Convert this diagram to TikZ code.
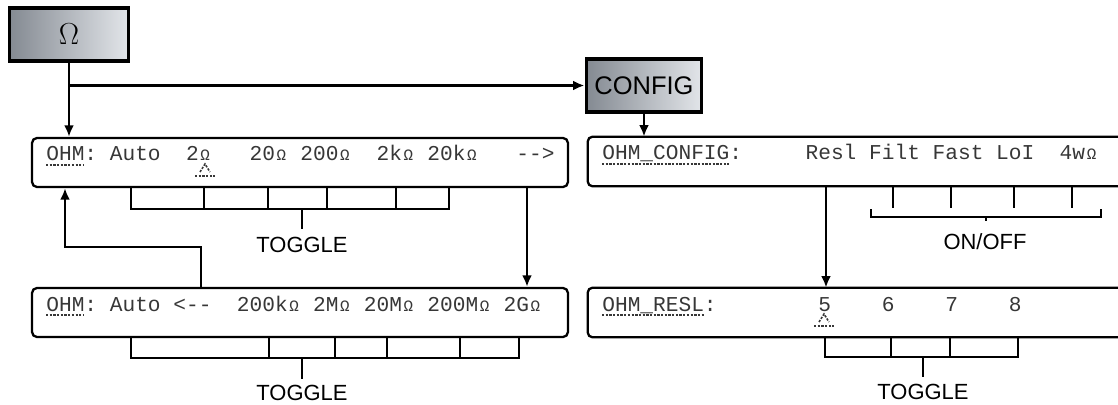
\documentclass[tikz,border=0pt]{standalone}
\usepackage{fontspec}
\usepackage{tikz}
\usetikzlibrary{arrows.meta,calc}
\newfontfamily\lcdfont{Liberation Mono}
\newfontfamily\labelfont{Liberation Sans}
\definecolor{KeyDark}{RGB}{132,138,146}
\definecolor{KeyLight}{RGB}{226,229,233}
\definecolor{LcdInk}{RGB}{55,55,55}
\newcommand{\om}{\makebox[0.6em]{\fontsize{9}{9}\selectfont Ω}}
\newcommand{\dsh}{\mbox{-}}
\tikzset{
  keybox/.style={draw, line width=2.2pt, left color=KeyDark, right color=KeyLight, inner sep=1pt},
  display/.style={draw, line width=1.3pt, rounded corners=2.8pt, minimum width=10.72cm, minimum height=0.98cm},
  openbox/.style={minimum width=10.6cm, minimum height=0.98cm},
  lcd/.style={font=\lcdfont\fontsize{12.05}{14}\selectfont\frenchspacing, text=LcdInk, inner sep=0pt, anchor=base west},
  selline/.style={LcdInk, line width=0.9pt, dash pattern=on 1.3pt off 0.8pt},
  brace/.style={line width=1.1pt},
  flow/.style={->, line width=1.4pt},
  lbl/.style={font=\labelfont\fontsize{12.5}{15}\selectfont},
  cursor/.pic={\draw[selline] (-5,11) -- (0,3) -- (5,11); \draw[selline] (-10,15) -- (10,15);}
}

\begin{document}
\begin{tikzpicture}[>={Latex[length=6.5pt,width=5.5pt]},x=0.02cm,y=-0.02cm]
\useasboundingbox (0,0) rectangle (1118,405);
% keys
\node[keybox, minimum width=2.38cm, minimum height=1.06cm, font=\fontsize{17}{20}\selectfont] (omegakey) at (69,34.5) {$\Omega$};
\node[keybox, minimum width=2.3cm, minimum height=1.06cm, font=\labelfont\fontsize{14.5}{18}\selectfont] (configkey) at (644,85.5) {CONFIG};
% displays
\node[display] (ohmtop) at (300,162.5) {};
\node[display] (ohmbot) at (300,312.5) {};
\node[openbox] (cfgdisp) at (853,161.5) {};
\node[openbox] (resldisp) at (853,312.5) {};
\draw[line width=1.3pt, rounded corners=2.8pt] (cfgdisp.north east) -- (cfgdisp.north west) -- (cfgdisp.south west) -- (cfgdisp.south east);
\draw[line width=1.3pt, rounded corners=2.8pt] (resldisp.north east) -- (resldisp.north west) -- (resldisp.south west) -- (resldisp.south east);

\node[lcd] (ohmtoptext) at (46,161) {OHM:~Auto~~2\om~~~20\om~200\om~~2k\om~20k\om~~~\dsh\dsh>};
\draw[selline] (46,165) -- (84,165);
\pic at (205,161) {cursor};
\node[lcd] (ohmbottext) at (46,311) {OHM:~Auto~<\dsh\dsh~~200k\om~2M\om~20M\om~200M\om~2G\om};
\draw[selline] (46,315) -- (84,315);
\node[lcd] (cfgtext) at (602,160) {OHM\_CONFIG:~~~~~Resl~Filt~Fast~LoI~~4w\om};
\draw[selline] (602,164) -- (729,164);
\node[lcd] (resltext) at (602,311) {OHM\_RESL:~~~~~~~~5~~~~6~~~~7~~~~8};
\draw[selline] (602,315) -- (704,315);
\pic at (824,311) {cursor};

% connectors
\coordinate (backx) at (201,0);
\coordinate (backturn) at (65,247);
\coordinate (nextx) at (527,0);
\coordinate (reslx) at (826,0);
\draw[flow] (omegakey.south) -- (ohmtop.north -| omegakey.south);
\draw[flow] (omegakey.south |- configkey.west) -- (configkey.west);
\draw[flow] (configkey.south) -- (cfgdisp.north -| configkey.south);
\draw[flow] (ohmbot.north -| backx) |- (backturn) -- (backturn |- ohmtop.south);
\draw[flow] (ohmtop.south -| nextx) -- (ohmbot.north -| nextx);
\draw[flow] (cfgdisp.south -| reslx) -- (resldisp.north -| reslx);

% brackets
\draw[brace] (131,187) |- (449,209) -- (449,187) (204,187) -- (204,209) (268,187) -- (268,209)
  (327,187) -- (327,209) (396,187) -- (396,209) (302,209) -- (302,229);
\draw[brace] (131,337) |- (519,358) -- (519,337) (269,337) -- (269,358) (335,337) -- (335,358)
  (387,337) -- (387,358) (460,337) -- (460,358) (302,358) -- (302,379);
\draw[brace] (871,209) |- (1101,217) -- (1101,209) (986,217) -- (986,221)
  (893,186) -- (893,208) (951,186) -- (951,208) (1014,186) -- (1014,208) (1072,186) -- (1072,208);
\draw[brace] (825,337) |- (1018,357) -- (1018,337) (891,337) -- (891,357) (950,337) -- (950,357)
  (923,357) -- (923,377);
\node[lbl] (toggletop) at (302,245) {TOGGLE};
\node[lbl] (togglebot) at (302,393) {TOGGLE};
\node[lbl] (onoff) at (985,242) {ON/OFF};
\node[lbl] (togglersl) at (923,392) {TOGGLE};
\end{tikzpicture}
\end{document}
